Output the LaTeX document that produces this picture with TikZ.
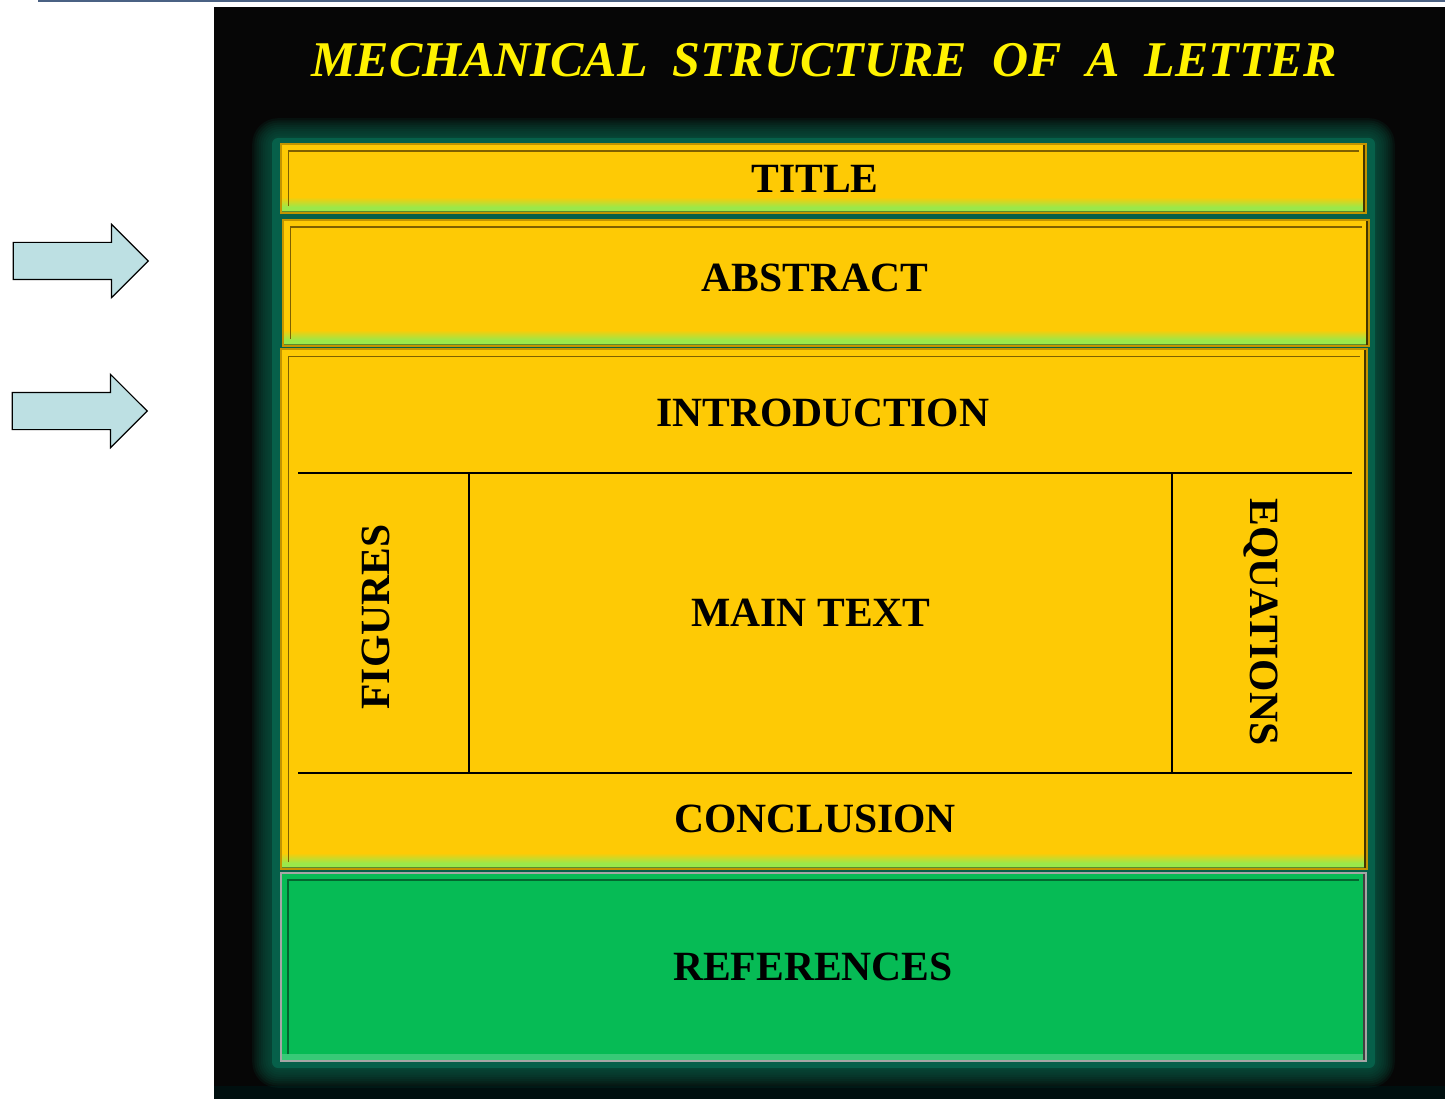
\documentclass[tikz,border=0pt]{standalone}
\usepackage{fontspec}
\setmainfont{Liberation Serif}
\usetikzlibrary{shapes.arrows}

\definecolor{boxyellow}{HTML}{FECA05}
\definecolor{goldedge}{HTML}{C39400}
\definecolor{limeedge}{HTML}{9BE84A}
\definecolor{refgreen}{HTML}{06BB55}
\definecolor{glowteal}{HTML}{06604A}
\definecolor{arrowblue}{HTML}{BDE0E3}
\definecolor{topline}{HTML}{4A6183}
\definecolor{backdrop}{HTML}{060606}

\tikzset{
  panel/.style={anchor=north west,inner sep=0pt,draw=goldedge,line width=2.4pt,fill=boxyellow,
    path picture={
      \foreach \s in {0,...,9}
        \fill[boxyellow!\the\numexpr100-\s*10\relax!limeedge]
          ([yshift=16pt-\s*1pt]path picture bounding box.south west) rectangle ([yshift=15pt-\s*1pt]path picture bounding box.south east);
      \fill[limeedge] ([yshift=6pt]path picture bounding box.south west) rectangle (path picture bounding box.south east);
      \draw[limeedge!60!black,line width=1.6pt]
        ([yshift=1pt]path picture bounding box.south west) -- ([yshift=1pt]path picture bounding box.south east);
      \draw[goldedge!65!black,line width=1.4pt]
        ([shift={(7pt,7pt)}]path picture bounding box.south west) |- ([shift={(-7pt,-7pt)}]path picture bounding box.north east);
      \draw[goldedge!35!black,line width=2.4pt]
        ([xshift=-2pt]path picture bounding box.north east) -- ([xshift=-2pt]path picture bounding box.south east);
    }},
  refbox/.style={anchor=north west,inner sep=0pt,draw=black!35,line width=2.4pt,fill=refgreen,
    path picture={
      \fill[refgreen!80!white] ([yshift=7pt]path picture bounding box.south west) rectangle (path picture bounding box.south east);
      \draw[refgreen!55!black,line width=1.6pt]
        ([shift={(7pt,7pt)}]path picture bounding box.south west) |- ([shift={(-7pt,-7pt)}]path picture bounding box.north east);
      \draw[black!75,line width=2.4pt]
        ([xshift=-2pt]path picture bounding box.north east) -- ([xshift=-2pt]path picture bounding box.south east);
    }},
  lbl/.style={font=\fontsize{41.6}{50}\selectfont\bfseries,inner sep=0pt,text=black},
  headline/.style={font=\fontsize{50}{60}\selectfont\bfseries\itshape,inner sep=0pt,text=yellow},
  divider/.style={line width=1.6pt,black},
  pointer/.style={single arrow,draw=black,line width=1.2pt,fill=arrowblue,anchor=tip,
    minimum height=135pt,minimum width=72pt,single arrow head extend=18pt,
    single arrow tip angle=90,single arrow head indent=0pt,inner xsep=0pt,inner ysep=18pt}
}

\begin{document}
\begin{tikzpicture}[x=1pt,y=-1pt]
  \useasboundingbox (0,0) rectangle (1445,1099);
  \fill[white] (0,0) rectangle (1445,1099);
  \draw[topline,line width=2pt] (38,1) -- (1445,1);

  % dark slide
  \fill[backdrop] (214,7) rectangle (1445,1099);
  \fill[black!88!teal] (214,1086) rectangle (1445,1099);

  % soft teal glow behind the panels
  \foreach \g in {1,...,9}
    \fill[glowteal,opacity=.13,rounded corners=8pt+\g*2pt] (272-\g*2.2,138-\g*2.2) rectangle (1375+\g*2.2,1068+\g*2.2);
  \fill[glowteal,rounded corners=6pt] (272,138) rectangle (1375,1068);

  \node[headline] (heading) at (824,60) {MECHANICAL\ \ STRUCTURE\ \ OF\ \ A\ \ LETTER};

  % panels
  \node[panel,minimum width=1085pt,minimum height=69pt] (titlebar) at (280,143) {};
  \node[panel,minimum width=1086pt,minimum height=126pt] (abstractbar) at (282,219) {};
  \node[panel,minimum width=1086pt,minimum height=520pt] (bodypanel) at (280,348) {};
  \node[refbox,minimum width=1085pt,minimum height=188pt] (refpanel) at (280,872) {};

  % inner grid of the body
  \coordinate (d1l) at (298,473);
  \coordinate (d1r) at (1352,473);
  \coordinate (d2l) at (298,773);
  \coordinate (d2r) at (1352,773);
  \coordinate (v1t) at (469,473);
  \coordinate (v1b) at (469,773);
  \coordinate (v2t) at (1172,473);
  \coordinate (v2b) at (1172,773);
  \draw[divider] (d1l) -- (d1r);
  \draw[divider] (d2l) -- (d2r);
  \draw[divider] (v1t) -- (v1b);
  \draw[divider] (v2t) -- (v2b);

  \node[lbl] (titletxt) at (815,179) {TITLE};
  \node[lbl] (abstracttxt) at (815,278) {ABSTRACT};
  \node[lbl] (introtxt) at (823,413) {INTRODUCTION};
  \node[lbl] (maintxt) at (811,613) {MAIN TEXT};
  \node[lbl] (conctxt) at (815,819) {CONCLUSION};
  \node[lbl] (reftxt) at (813,967) {REFERENCES};
  \node[lbl,rotate=90] (figtxt) at (376,617) {FIGURES};
  \node[lbl,rotate=-90] (eqtxt) at (1261,622) {EQUATIONS};

  % arrows on the left
  \node[pointer] (arrowA) at (149,261) {};
  \node[pointer] (arrowB) at (148,411) {};
\end{tikzpicture}
\end{document}
